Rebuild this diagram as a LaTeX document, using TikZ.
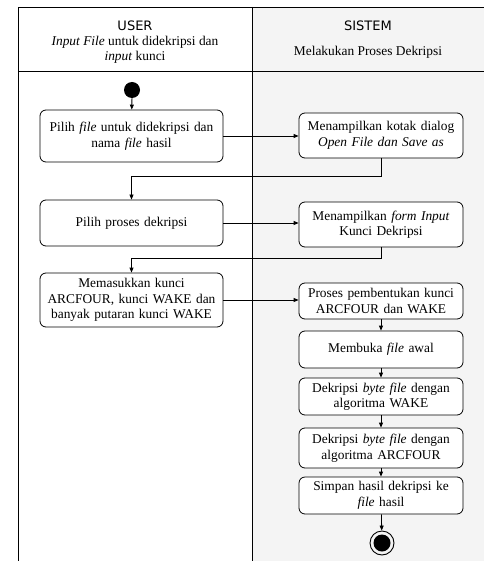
\documentclass[tikz,border=0pt]{standalone}
\usepackage{fontspec}
\setmainfont{Liberation Serif}
\newfontfamily\headfont{DejaVu Sans}
\usetikzlibrary{positioning,arrows.meta}
\definecolor{LaneGray}{RGB}{244,244,244}

\begin{document}
\begin{tikzpicture}[
                        x=1pt, y=-1pt,
                        every node/.style={font=\fontsize{13.4}{15.5}\selectfont},
                        actbox/.style={draw, rounded corners=6pt, line width=0.8pt, fill=white, align=center, inner sep=1pt},
                        userbox/.style={actbox, minimum width=183pt, text width=180pt},
                        sysbox/.style={actbox, minimum width=164pt, text width=161pt},
                        flow/.style={-{Triangle[length=5pt,width=4pt]}, line width=0.8pt},
                        lanehead/.style={font=\headfont\fontsize{13}{15}\selectfont}
                    ]
                        \useasboundingbox (0,0) rectangle (484,561);
                        \fill[LaneGray] (252,7) rectangle (484,561);
                        \draw[line width=0.9pt] (18,561) -- (18,7) -- (484,7);
                        \draw[line width=0.9pt] (252,7) -- (252,561);
                        \draw[line width=0.9pt] (18,71) -- (484,71);
                        \node[lanehead] (userhead) at (135,26) {USER};
                        \node[align=center] (userdesc) at (135,50) {\textit{Input File} untuk didekripsi dan\\\textit{input} kunci};
                        \node[lanehead] (syshead) at (368,26) {SISTEM};
                        \node (sysdesc) at (368,52) {Melakukan Proses Dekripsi};
                        \node[circle, fill=black, minimum size=16pt, inner sep=0pt] (start) at (132,90) {};
                        \node[userbox, minimum height=52pt] (u1) at (131.5,136) {Pilih \textit{file} untuk didekripsi dan\\nama \textit{file} hasil};
                        \node[sysbox, minimum height=45pt] (s1) at (381,135.5) {Menampilkan kotak dialog\\\textit{Open File dan Save as}};
                        \node[userbox, minimum height=46pt] (u2) at (131.5,223) {Pilih proses dekripsi};
                        \node[sysbox, minimum height=45pt] (s2) at (381,224.5) {Menampilkan \textit{form Input}\\Kunci Dekripsi};
                        \node[userbox, minimum height=54pt] (u3) at (131.5,300) {Memasukkan kunci\\ARCFOUR, kunci WAKE dan\\banyak putaran kunci WAKE};
                        \node[sysbox, minimum height=36pt] (s3) at (381,301) {Proses pembentukan kunci\\ARCFOUR dan WAKE};
                        \node[sysbox, minimum height=37pt] (s4) at (381,349.5) {Membuka \textit{file} awal};
                        \node[sysbox, minimum height=37pt] (s5) at (381,396.5) {Dekripsi \textit{byte file} dengan\\algoritma WAKE};
                        \node[sysbox, minimum height=40pt] (s6) at (381,448) {Dekripsi \textit{byte file} dengan\\algoritma ARCFOUR};
                        \node[sysbox, minimum height=37pt] (s7) at (381,495.5) {Simpan hasil dekripsi ke\\\textit{file} hasil};
                        \node[circle, draw, line width=0.9pt, minimum size=24pt, inner sep=0pt] (finish) at (382,543) {};
                        \node[circle, fill=black, minimum size=17pt, inner sep=0pt] (finishdot) at (finish) {};
                        \draw[flow] (start) -- (u1);
                        \draw[flow] (u1.east) -- (u1.east -| s1.west);
                        \draw[flow] (s1.south) -- ++(0,18) -| (u2.north);
                        \draw[flow] (u2.east) -- (u2.east -| s2.west);
                        \draw[flow] (s2.south) -- ++(0,11) -| (u3.north);
                        \draw[flow] (u3.east) -- (u3.east -| s3.west);
                        \draw[flow] (s3) -- (s4);
                        \draw[flow] (s4) -- (s5);
                        \draw[flow] (s5) -- (s6);
                        \draw[flow] (s6) -- (s7);
                        \draw[flow] (s7) -- (finish);
                    \end{tikzpicture}
\end{document}
